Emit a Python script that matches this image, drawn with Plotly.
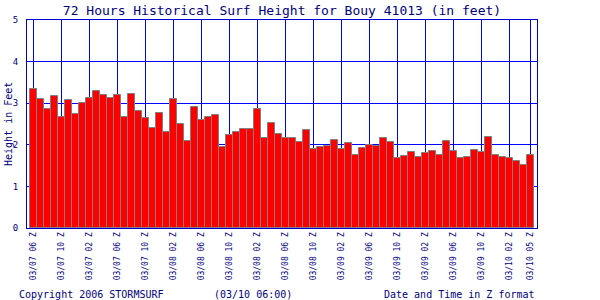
import plotly.graph_objects as go

# Hourly surf heights (feet), 03/07 06Z .. 03/10 05Z
heights = [
    3.33, 3.09, 2.85, 3.17, 2.66, 3.07, 2.73, 3.00, 3.12, 3.29,
    3.19, 3.12, 3.19, 2.66, 3.21, 2.81, 2.64, 2.40, 2.76, 2.30,
    3.09, 2.49, 2.08, 2.90, 2.59, 2.68, 2.71, 1.94, 2.23, 2.30,
    2.37, 2.37, 2.85, 2.16, 2.52, 2.25, 2.16, 2.16, 2.06, 2.35,
    1.89, 1.94, 1.96, 2.11, 1.89, 2.04, 1.75, 1.92, 1.99, 1.96,
    2.16, 2.06, 1.68, 1.72, 1.82, 1.70, 1.80, 1.84, 1.75, 2.08,
    1.84, 1.68, 1.70, 1.87, 1.82, 2.18, 1.75, 1.70, 1.68, 1.60,
    1.51, 1.75,
]

tick_pos = [0, 4, 8, 12, 16, 20, 24, 28, 32, 36, 40, 44, 48, 52, 56, 60, 64, 68, 71]
tick_labels = [
    "03/07 06 Z", "03/07 10 Z", "03/07 02 Z", "03/07 06 Z", "03/07 10 Z",
    "03/08 02 Z", "03/08 06 Z", "03/08 10 Z", "03/08 02 Z", "03/08 06 Z",
    "03/08 10 Z", "03/09 02 Z", "03/09 06 Z", "03/09 10 Z", "03/09 02 Z",
    "03/09 06 Z", "03/09 10 Z", "03/10 02 Z", "03/10 05 Z",
]

BLUE = "#0000FF"
NAVY = "#000080"
FONT = "DejaVu Sans Mono"

fig = go.Figure(go.Bar(
    x=list(range(len(heights))),
    y=heights,
    width=1,
    marker=dict(color="#FF0000", line=dict(color="#808080", width=1)),
    hoverinfo="skip",
))

fig.update_layout(
    width=600, height=300,
    margin=dict(l=27, r=63, t=20, b=72),
    plot_bgcolor="white", paper_bgcolor="white",
    bargap=0, showlegend=False,
    font=dict(family=FONT, color=NAVY),
    title=dict(text="72 Hours Historical Surf Height for Bouy 41013 (in feet)",
               x=282 / 600, xanchor="center", y=1 - 10 / 300, yanchor="middle",
               font=dict(family=FONT, size=13, color=NAVY)),
)

fig.update_xaxes(
    range=[-0.95, 71.95], tickvals=tick_pos, ticktext=tick_labels,
    tickangle=-90, tickfont=dict(family=FONT, size=8, color=NAVY),
    showgrid=True, gridcolor=BLUE, gridwidth=1,
    showline=True, linecolor="#0000CC", linewidth=1, mirror=True,
    zeroline=False, ticks="",
)
fig.update_yaxes(
    range=[0, 5], tickvals=[0, 1, 2, 3, 4, 5],
    tickfont=dict(family=FONT, size=9, color=NAVY),
    showgrid=True, gridcolor=BLUE, gridwidth=1,
    showline=True, linecolor="#0000CC", linewidth=1, mirror=True,
    zeroline=False, ticks="", ticklabelstandoff=6,
)

fig.add_annotation(text="Height in Feet", xref="paper", yref="paper",
                   x=(8 - 27) / 510, y=0.5, xanchor="center", yanchor="middle",
                   textangle=-90, showarrow=False,
                   font=dict(family=FONT, size=10, color=NAVY))
fig.add_annotation(text="Copyright 2006 STORMSURF", xref="paper", yref="paper",
                   x=(17 - 27) / 510, y=(228 - 294) / 208, xanchor="left", yanchor="middle",
                   showarrow=False, font=dict(family=FONT, size=10, color=NAVY))
fig.add_annotation(text="(03/10 06:00)", xref="paper", yref="paper",
                   x=(253 - 27) / 510, y=(228 - 294) / 208, xanchor="center", yanchor="middle",
                   showarrow=False, font=dict(family=FONT, size=10, color=NAVY))
fig.add_annotation(text="Date and Time in Z format", xref="paper", yref="paper",
                   x=1.0, y=(228 - 294) / 208, xanchor="right", yanchor="middle",
                   showarrow=False, font=dict(family=FONT, size=10, color=NAVY))

fig.write_html("out.html", config={"displayModeBar": False})
